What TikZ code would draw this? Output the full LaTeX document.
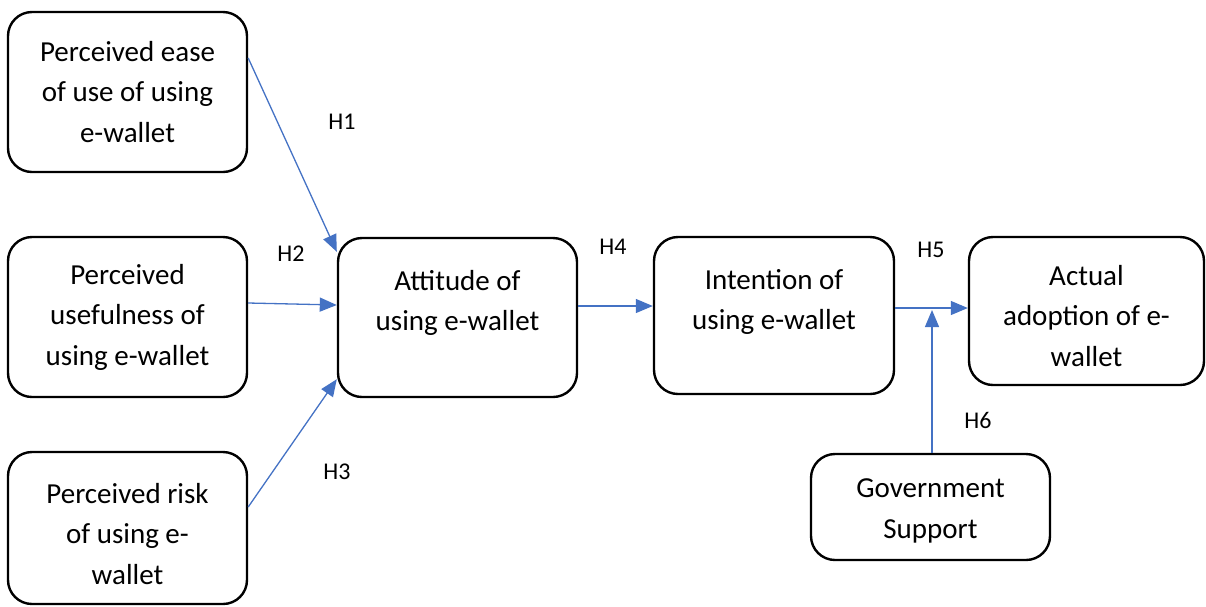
\documentclass[tikz,border=0pt]{standalone}
\usepackage{fontspec}
\setmainfont{Carlito}
\usetikzlibrary{arrows.meta}
\definecolor{arrblue}{RGB}{68,114,196}
\tikzset{
  box/.style={draw=black, line width=2.4pt, rounded corners=24pt, fill=white},
  txt/.style={align=center, font=\fontsize{29}{40.5}\selectfont, inner sep=0pt},
  hlab/.style={font=\fontsize{24}{28}\selectfont, inner sep=0pt},
  conn/.style={draw=arrblue, line width=1.3pt, -{Triangle[length=17pt,width=14pt]}}
}
\begin{document}
\begin{tikzpicture}[x=1pt,y=-1pt]
\useasboundingbox (0,0) rectangle (1206,606);
% boxes
\node[box, minimum width=239pt, minimum height=160pt] (b1) at (127.5,92) {};
\node[box, minimum width=239pt, minimum height=160pt] (b2) at (127.5,317) {};
\node[box, minimum width=239pt, minimum height=152pt] (b3) at (127.5,528) {};
\node[box, minimum width=239pt, minimum height=159pt] (att) at (457.5,317.5) {};
\node[box, minimum width=240pt, minimum height=157pt] (int) at (774,315.5) {};
\node[box, minimum width=235pt, minimum height=148pt] (act) at (1086.5,311) {};
\node[box, minimum width=239pt, minimum height=106pt] (gov) at (930.5,507) {};
% texts
\node[txt] (b1t) at (127.5,92) {Perceived ease\\of use of using\\e-wallet};
\node[txt] (b2t) at (127.5,317) {Perceived\\usefulness of\\using e-wallet};
\node[txt] (b3t) at (127.5,534) {Perceived risk\\of using e-\\wallet};
\node[txt] (attt) at (457.5,303) {Attitude of\\using e-wallet};
\node[txt] (intt) at (774,302) {Intention of\\using e-wallet};
\node[txt] (actt) at (1086.5,316) {Actual\\adoption of e-\\wallet};
\node[txt] (govt) at (930.5,511) {Government\\Support};
% connector points
\coordinate (s1) at ([yshift=34pt]b1.east);
\coordinate (e1) at ([yshift=-15pt]att.north west);
\coordinate (s2) at ([yshift=14pt]b2.east);
\coordinate (e2) at ([yshift=12.5pt]att.west);
\coordinate (s3) at ([yshift=21pt]b3.east);
\coordinate (e3) at ([yshift=19pt]att.south west);
\coordinate (s4) at ([yshift=11.5pt]att.east);
\coordinate (e4) at ([yshift=9.5pt]int.west);
\coordinate (s5) at ([yshift=7.5pt]int.east);
\coordinate (e5) at ([yshift=3pt]act.west);
\coordinate (s6) at ([xshift=1.5pt]gov.north);
\coordinate (e6) at (932,310);
% connectors
\draw[conn] (s1) -- (e1);
\draw[conn] (s2) -- (e2);
\draw[conn] (s3) -- (e3);
\draw[conn] (s4) -- (e4);
\draw[conn] (s5) -- (e5);
\draw[conn] (s6) -- (e6);
% labels
\node[hlab] (h1) at (342,122) {H1};
\node[hlab] (h2) at (291,254) {H2};
\node[hlab] (h3) at (337,472) {H3};
\node[hlab] (h4) at (613,247) {H4};
\node[hlab] (h5) at (931,250) {H5};
\node[hlab] (h6) at (978,420) {H6};
\end{tikzpicture}
\end{document}
